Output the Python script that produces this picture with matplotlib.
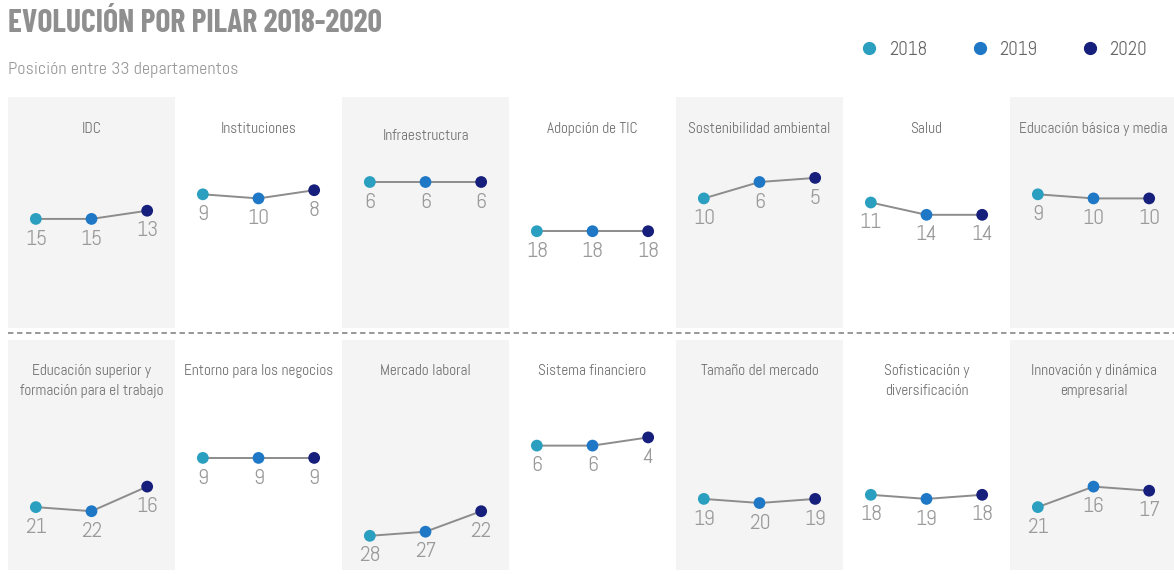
import matplotlib
matplotlib.use('Agg')
import matplotlib.pyplot as plt
from matplotlib import font_manager
from matplotlib.lines import Line2D

available = {f.name for f in font_manager.fontManager.ttflist}

def pick(*names):
    for n in names:
        if n in available:
            return n
    return 'DejaVu Sans'

BODY_FONT = pick('Abel', 'Barlow Condensed', 'Roboto Condensed', 'Open Sans Condensed')
TITLE_FONT = pick('Barlow Condensed', 'Roboto Condensed', 'Open Sans Condensed')
plt.rcParams['font.family'] = [BODY_FONT, 'DejaVu Sans']

# Data: position among 33 departments (lower = better)
years = ['2018', '2019', '2020']
year_colors = ['#2b9fc0', '#1f78c6', '#16207c']

row1_pillars = ['IDC', 'Instituciones', 'Infraestructura', 'Adopción de TIC',
                'Sostenibilidad ambiental', 'Salud', 'Educación básica y media']
row1_ranks = [[15, 15, 13], [9, 10, 8], [6, 6, 6], [18, 18, 18],
              [10, 6, 5], [11, 14, 14], [9, 10, 10]]

row2_pillars = ['Educación superior y\nformación para el trabajo', 'Entorno para los negocios',
                'Mercado laboral', 'Sistema financiero', 'Tamaño del mercado',
                'Sofisticación y\ndiversificación', 'Innovación y dinámica\nempresarial']
row2_ranks = [[21, 22, 16], [9, 9, 9], [28, 27, 22], [6, 6, 4],
              [19, 20, 19], [18, 19, 18], [21, 16, 17]]

W, H = 1174, 574
fig = plt.figure(figsize=(W / 100, H / 100), dpi=100)
fig.patch.set_facecolor('white')

GRAY_BG = '#f4f4f4'
PANEL_W = 167
X0 = 8

def draw_row(pillars, ranks, top_px, bottom_px, ylim, title_y):
    for i, (name, vals) in enumerate(zip(pillars, ranks)):
        left = X0 + i * PANEL_W
        ax = fig.add_axes([left / W, (H - bottom_px) / H, PANEL_W / W, (bottom_px - top_px) / H])
        ax.set_facecolor(GRAY_BG if i % 2 == 0 else 'white')
        for s in ax.spines.values():
            s.set_visible(False)
        ax.set_xticks([])
        ax.set_yticks([])
        ax.set_xlim(-0.5, 2.5)
        ax.set_ylim(*ylim)
        xs = range(len(vals))
        ax.plot(xs, vals, color='#8c8c8c', lw=1.4, zorder=1)
        ax.scatter(xs, vals, s=72, c=year_colors, zorder=2, linewidths=0)
        for x, v in zip(xs, vals):
            ax.annotate(str(v), (x, v), xytext=(0, -14.5), textcoords='offset points',
                        ha='center', va='center', fontsize=15.5, color='#9a9a9a')
        ty = title_y
        if name == 'Infraestructura':
            ty -= 0.03
        ax.text(0.5, ty, name, transform=ax.transAxes, ha='center', va='top',
                fontsize=11, color='#707070', linespacing=1.6)

# row 1: pixel y = 157.4 + 4.1 * rank ; row 2: pixel y = 421 + 4.1 * rank
draw_row(row1_pillars, row1_ranks, 97, 328, (41.6, -14.73), 0.89)
draw_row(row2_pillars, row2_ranks, 340, 570, (36.34, -19.76), 0.897)

# dashed separator
fig.add_artist(Line2D([X0 / W, 1.0], [(H - 333) / H] * 2, transform=fig.transFigure,
                      color='#909090', lw=1.3, ls=(0, (3, 2))))

fig.text(8 / W, 1 - 24 / H, 'EVOLUCIÓN POR PILAR 2018-2020', fontsize=22.8,
         fontweight='bold', color='#8f8f8f', ha='left', va='center',
         family=[TITLE_FONT, 'DejaVu Sans'])
fig.text(8 / W, 1 - 70 / H, 'Posición entre 33 departamentos', fontsize=13,
         color='#999999', ha='left', va='center')

handles = [Line2D([], [], ls='none', marker='o', ms=8.5, mfc=c, mec=c) for c in year_colors]
fig.legend(handles, years, loc='center right', bbox_to_anchor=(1164 / W, 1 - 50 / H),
           ncol=3, frameon=False, fontsize=13.5, labelcolor='#666666',
           handletextpad=0.55, columnspacing=2.3, handlelength=1.0)

fig.savefig('out.png', dpi=100, facecolor='white')
